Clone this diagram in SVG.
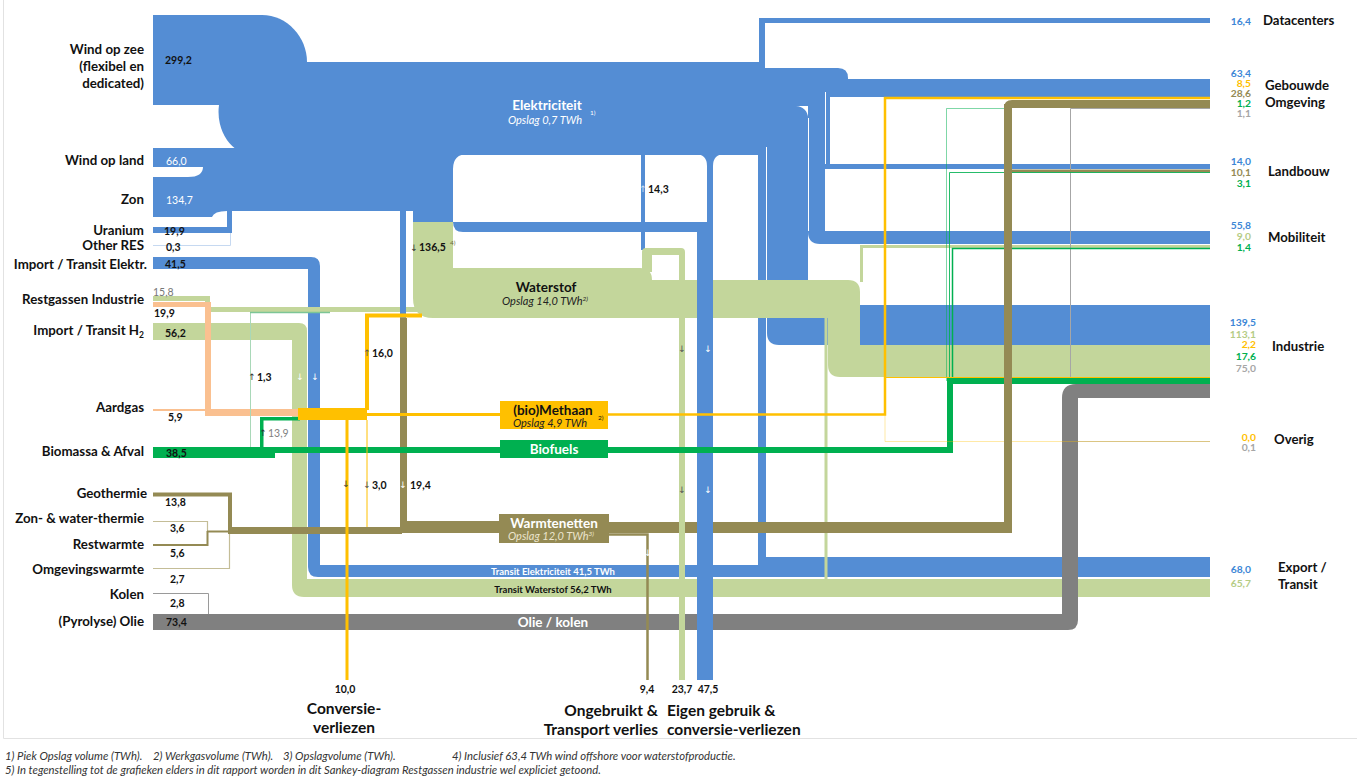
<svg xmlns="http://www.w3.org/2000/svg" width="1357" height="776" viewBox="0 0 1357 776">
<style>
text{font-family:Lato,"Open Sans","Liberation Sans",sans-serif}
.lbl{font-size:13.3px;font-weight:bold;fill:#111;text-anchor:end}
.rl{font-size:13.2px;font-weight:bold;fill:#111}
.v{font-size:10.5px;font-weight:bold;fill:#111}
.vw{font-size:10.5px;fill:#fff}
.vr{font-size:10.3px;font-weight:bold;text-anchor:end}
.nl{font-size:13.5px;font-weight:bold;text-anchor:middle}
.ns{font-size:11px;font-style:italic;text-anchor:middle}
.sup{font-size:6.5px}
.ar{font-family:"DejaVu Sans",sans-serif;font-size:9px;text-anchor:middle}
.bt{font-size:15.5px;font-weight:bold;fill:#111}
.fn{font-size:11.3px;font-style:italic;fill:#333}
.tr{font-size:9.5px;font-weight:bold;text-anchor:middle}
.bl{fill:#548DD4}.h2{fill:#C3D69B}.yl{fill:#FFC000}.ol{fill:#948A54}.gn{fill:#00B050}.gy{fill:#808080}.pc{fill:#FAC090}.wh{fill:#fff}
.s{fill:none}
</style>
<rect width="1357" height="776" fill="#fff"/>
<path d="M3.5,0 V738.5 H1357" fill="none" stroke="#e2e2e2" stroke-width="1"/>

<g id="connectors">
  <!-- Elektriciteit mass and outgoing columns -->
  <path class="bl" d="M153,15 H262 C287,15 307,37 307,62 V105 H153 Z"/>
  <path class="bl" d="M219,62 H759 V18 H1210 V23 H765 V68 H838 Q848,68 848,78 V90 H808 V155 H254 A35,43 0 0 1 219,105 Z"/>
  <rect class="bl" x="153" y="148" width="57" height="19"/>
  <path class="bl" d="M153,177 H188 Q203,177 203,167 V217 H153 Z"/>
  <path class="bl" d="M203,148 H453 V222 H413 V211 H227 Q214,211 212,217 H203 Z"/>
  <path class="bl" d="M153,227 H227 V208 H232 V233 H153 Z"/>
  <path class="s" d="M153,245.5 H230.5 V233" stroke="#C6D9F1" stroke-width="1"/>
  <rect class="bl" x="400" y="205" width="6" height="113"/>
  <path class="bl" d="M453,154 H468 Q453,154 453,169 Z"/>
  <path class="bl" d="M453,222 H713 V232 H463 Q453,232 453,222 Z"/>
  <rect class="bl" x="707" y="150" width="6" height="82"/>
  <path class="bl" d="M707,154 V166 Q707,154 695,154 Z"/>
  <path class="bl" d="M713,154 V166 Q713,154 725,154 Z"/>
  <rect class="bl" x="641" y="150" width="4" height="100"/>
  <path class="bl" d="M830,79 H1210 V97 H830 Z"/>
  <path class="bl" d="M825,88 H830 V164 H1210 V169 H825 Z"/>
  <path class="bl" d="M808,88 H825 V231 H1210 V244 H820 Q808,244 808,232 Z"/>
  <path class="bl" d="M767,100 H808 V305 H1210 V345 H779 Q767,345 767,333 Z"/>
  <path class="bl" d="M758,150 H766 V557 H1210 V577 H758 Z"/>
  <path class="bl" d="M153,257 H311 Q320,257 320,266 V565 H766 V577 H318 Q308,577 308,567 V269 H153 Z"/>
  <path class="wh" d="M796,106 H808 V118 A12,12 0 0 0 796,106 Z"/>
  <path class="s" d="M808.5,118 V231 M825.5,92 V164 M766.5,147 V557" stroke="#fff" stroke-width="1"/>

  <!-- Waterstof flows -->
  <path class="h2" d="M413,222 H453 V268 H640 Q652,268 652,280 H848 Q860,280 860,292 V345 H1210 V377 H840 Q828,377 828,365 V318 H433 Q413,318 413,298 Z"/>
  <path class="h2" d="M642,252 Q642,248 646,248 H681 Q685,248 685,252 V680 H679 V255 H652 V272 H642 Z"/>
  <path class="s" d="M861.5,282 V246.5 H1210" stroke="#C3D69B" stroke-width="3"/>
  <path class="s" d="M826,318 V580" stroke="#C3D69B" stroke-width="3"/>
  <path class="h2" d="M153,296 H210 V307 H420 V312 H205 V301 H153 Z"/>
  <path class="h2" d="M153,323 H299 Q307,323 307,331 V579 H1210 V597 H304 Q292,597 292,585 V340 H153 Z"/>
  <rect class="bl" x="400" y="300" width="6" height="18"/>

  <!-- Olie / kolen -->
  <path class="gy" d="M153,614 H1062 V398 Q1062,384 1076,384 H1210 V398 H1078 V620 Q1078,630 1068,630 H153 Z"/>
  <path class="s" d="M153,593.5 H208.5 V614" stroke="#9a9a9a" stroke-width="1"/>
  <path class="s" d="M1070.5,384 V108.5 H1210" stroke="#A6A6A6" stroke-width="1"/>
  <path class="s" d="M1078,441.5 H1210" stroke="#C8C8C8" stroke-width="1"/>

  <!-- Warmte -->
  <path class="s" d="M153,494.5 H230 V531" stroke="#948A54" stroke-width="4"/>
  <path class="s" d="M153,521.5 H207.5 V532" stroke="#C4BD97" stroke-width="1.2"/>
  <path class="s" d="M153,545 H207.5 V531" stroke="#948A54" stroke-width="2"/>
  <path class="s" d="M207,531.5 H230" stroke="#948A54" stroke-width="2"/>
  <path class="s" d="M153,568.5 H229.5 V533" stroke="#C4BD97" stroke-width="1.2"/>
  <rect class="ol" x="228" y="527" width="174" height="7"/>
  <rect class="ol" x="400" y="318" width="7" height="215"/>
  <rect class="ol" x="400" y="521" width="100" height="12"/>
  <path class="ol" d="M608,522 H1004 V108 Q1004,100 1012,100 H1210 V108 H1012 V533 H608 Z"/>
  <path class="s" d="M1012,171 H1210" stroke="#948A54" stroke-width="3"/>
  <path class="s" d="M608,534.5 H647.5 V680" stroke="#948A54" stroke-width="2.5"/>

  <!-- Eigen gebruik column -->
  <rect class="bl" x="697" y="222" width="16" height="458"/>
  <rect class="h2" x="679" y="300" width="6" height="380"/>

  <!-- Aardgas / restgassen -->
  <path class="pc" d="M153,302 H211 V409 H300 V416 H205 V307 H153 Z"/>
  <rect class="pc" x="153" y="409" width="55" height="2"/>

  <!-- Biomassa / biofuels -->
  <path class="s" d="M250.5,447 V312" stroke="#A9D8B8" stroke-width="1"/>
  <path class="s" d="M250,312.5 H330" stroke="#7CC596" stroke-width="1.5"/>
  <rect class="gn" x="153" y="447" width="122" height="11"/>
  <rect class="gn" x="270" y="447" width="230" height="6"/>
  <path class="s" d="M261.75,450 V418.75 H300" stroke="#00B050" stroke-width="3.5"/>
  <path class="s" d="M608,450 H950 V381 H1210" stroke="#00B050" stroke-width="6"/>
  <path class="s" d="M946.5,381 V108.5 H1004" stroke="#00B050" stroke-opacity=".5" stroke-width="1"/>
  <path class="s" d="M949.5,381 V172.5 H1210" stroke="#00B050" stroke-opacity=".85" stroke-width="1"/>
  <path class="s" d="M952.5,381 V248.5 H1210" stroke="#00B050" stroke-width="1.5"/>

  <!-- Methaan -->
  <rect class="yl" x="298" y="408" width="69" height="12"/>
  <path class="s" d="M367,410 V315.5 H422" stroke="#FFC000" stroke-width="4"/>
  <path class="s" d="M363,414.5 H500" stroke="#FFC000" stroke-width="3"/>
  <path class="s" d="M608,414.5 H885 V98 H1210" stroke="#FFC000" stroke-width="2.5"/>
  <path class="s" d="M885,415 V441.5 H1210" stroke="#FFC000" stroke-opacity=".35" stroke-width="1"/>
  <path class="s" d="M885,377.5 H1210" stroke="#FFC000" stroke-width="1"/>
  <path class="s" d="M347,420 V680" stroke="#FFC000" stroke-width="3"/>
  <path class="s" d="M367,420 V527" stroke="#FFC000" stroke-width="1"/>

  <rect class="ol" x="1004" y="104" width="8" height="429"/>

  <!-- flow arrows -->
  <text class="ar" x="300" y="380" fill="#fff">↓</text>
  <text class="ar" x="315" y="380" fill="#fff">↓</text>
  <text class="ar" x="682" y="352" fill="#555">↓</text>
  <text class="ar" x="708" y="352" fill="#fff">↓</text>
  <text class="ar" x="682" y="493" fill="#555">↓</text>
  <text class="ar" x="708" y="493" fill="#fff">↓</text>
  <text class="ar" x="648" y="556" fill="#fff">↓</text>
  <text class="ar" x="346" y="487" fill="#444">↓</text>
</g>

<g id="node-elektriciteit">
  <text class="nl" x="547" y="110" fill="#fff">Elektriciteit</text>
  <text class="ns" x="545" y="124" fill="#fff">Opslag 0,7 TWh</text>
  <text class="sup" x="590" y="115" fill="#fff">1)</text>
  <text class="ar" x="643" y="192" fill="#cfe0f5">↑</text>
  <text class="v" x="648" y="193">14,3</text>
  <text class="ar" x="414" y="251" fill="#333">↓</text>
  <text class="v" x="419" y="251">136,5</text>
  <text class="sup" x="450" y="245" fill="#6b6b3a">4)</text>
</g>

<g id="node-waterstof">
  <text class="nl" x="546" y="292" fill="#111">Waterstof</text>
  <text class="ns" x="545" y="305" fill="#222">Opslag 14,0 TWh<tspan class="sup" dy="-4">2)</tspan></text>
</g>

<g id="node-methaan">
  <rect class="yl" x="500" y="401" width="108" height="28"/>
  <text class="nl" x="553" y="415" fill="#111">(bio)Methaan</text>
  <text class="ns" x="550" y="427" fill="#222">Opslag 4,9 TWh</text>
  <text class="sup" x="598" y="420" fill="#111">2)</text>
  <text class="ar" x="367" y="356" fill="#555">↑</text>
  <text class="v" x="372" y="357">16,0</text>
  <text class="ar" x="367" y="488" fill="#555">↓</text>
  <text class="v" x="372" y="489">3,0</text>
</g>

<g id="node-biofuels">
  <rect class="gn" x="500" y="440" width="108" height="18"/>
  <text class="nl" x="554" y="454" fill="#fff">Biofuels</text>
  <text class="ar" x="252" y="380" fill="#333">↑</text>
  <text class="v" x="257" y="381">1,3</text>
  <text class="ar" x="263" y="436" fill="#333">↑</text>
  <text x="268" y="437" style="font-size:10.5px" fill="#7f7f7f">13,9</text>
</g>

<g id="node-warmtenetten">
  <rect class="ol" x="499" y="514" width="110" height="29"/>
  <text class="nl" x="554" y="528" fill="#fff">Warmtenetten</text>
  <text class="ns" x="551" y="540" fill="#ebe4cc">Opslag 12,0 TWh<tspan class="sup" dy="-4">3)</tspan></text>
  <text class="ar" x="403" y="488" fill="#fff">↓</text>
  <text class="v" x="410" y="489">19,4</text>
</g>

<g id="node-transit">
  <text class="tr" x="553" y="575" fill="#fff">Transit Elektriciteit 41,5 TWh</text>
  <text class="tr" x="553" y="593" fill="#111">Transit Waterstof 56,2 TWh</text>
  <text class="nl" x="553" y="627" fill="#fff">Olie / kolen</text>
</g>

<g id="sources">
  <text class="lbl" x="144" y="54">Wind op zee</text>
  <text class="lbl" x="144" y="71">(flexibel en</text>
  <text class="lbl" x="144" y="88">dedicated)</text>
  <text class="lbl" x="144" y="165">Wind op land</text>
  <text class="lbl" x="144" y="204">Zon</text>
  <text class="lbl" x="144" y="235">Uranium</text>
  <text class="lbl" x="144" y="250">Other RES</text>
  <text class="lbl" x="147" y="269">Import / Transit Elektr.</text>
  <text class="lbl" x="144" y="304">Restgassen Industrie</text>
  <text class="lbl" x="144" y="335">Import / Transit H<tspan dy="3" style="font-size:8.5px">2</tspan></text>
  <text class="lbl" x="144" y="412">Aardgas</text>
  <text class="lbl" x="144" y="456">Biomassa &amp; Afval</text>
  <text class="lbl" x="147" y="498">Geothermie</text>
  <text class="lbl" x="144" y="523">Zon- &amp; water-thermie</text>
  <text class="lbl" x="144" y="549">Restwarmte</text>
  <text class="lbl" x="144" y="574">Omgevingswarmte</text>
  <text class="lbl" x="144" y="599">Kolen</text>
  <text class="lbl" x="144" y="626">(Pyrolyse) Olie</text>

  <text class="v" x="165" y="64" fill="#fff">299,2</text>
  <text class="vw" x="166" y="165">66,0</text>
  <text class="vw" x="166" y="204">134,7</text>
  <text class="v" x="164" y="235">19,9</text>
  <text class="v" x="166" y="251">0,3</text>
  <text class="v" x="165" y="268">41,5</text>
  <text x="153" y="296" style="font-size:10.5px" fill="#777">15,8</text>
  <text class="v" x="154" y="317">19,9</text>
  <text class="v" x="165" y="337">56,2</text>
  <text class="v" x="168" y="421">5,9</text>
  <text class="v" x="166" y="457" fill="#fff">38,5</text>
  <text class="v" x="165" y="506">13,8</text>
  <text class="v" x="170" y="532">3,6</text>
  <text class="v" x="170" y="557">5,6</text>
  <text class="v" x="170" y="583">2,7</text>
  <text class="v" x="170" y="607">2,8</text>
  <text class="v" x="166" y="626" fill="#fff">73,4</text>
</g>

<g id="sink-datacenters">
  <text class="vr" x="1251" y="25" fill="#3C86D6">16,4</text>
  <text class="rl" x="1263" y="25">Datacenters</text>
</g>
<g id="sink-gebouwde-omgeving">
  <text class="vr" x="1251" y="77" fill="#3C86D6">63,4</text>
  <text class="vr" x="1251" y="87" fill="#FFC000">8,5</text>
  <text class="vr" x="1251" y="97" fill="#948A54">28,6</text>
  <text class="vr" x="1251" y="107" fill="#00B050">1,2</text>
  <text class="vr" x="1251" y="117" fill="#A6A6A6">1,1</text>
  <text class="rl" x="1265" y="90">Gebouwde</text>
  <text class="rl" x="1265" y="107">Omgeving</text>
</g>
<g id="sink-landbouw">
  <text class="vr" x="1251" y="165" fill="#3C86D6">14,0</text>
  <text class="vr" x="1251" y="176" fill="#948A54">10,1</text>
  <text class="vr" x="1251" y="187" fill="#00B050">3,1</text>
  <text class="rl" x="1268" y="176">Landbouw</text>
</g>
<g id="sink-mobiliteit">
  <text class="vr" x="1251" y="229" fill="#3C86D6">55,8</text>
  <text class="vr" x="1251" y="240" fill="#B5CC85">9,0</text>
  <text class="vr" x="1251" y="251" fill="#00B050">1,4</text>
  <text class="rl" x="1268" y="242">Mobiliteit</text>
</g>
<g id="sink-industrie">
  <text class="vr" x="1256" y="326" fill="#3C86D6">139,5</text>
  <text class="vr" x="1256" y="338" fill="#B5CC85">113,1</text>
  <text class="vr" x="1256" y="348" fill="#FFC000">2,2</text>
  <text class="vr" x="1256" y="360" fill="#00B050">17,6</text>
  <text class="vr" x="1256" y="372" fill="#A6A6A6">75,0</text>
  <text class="rl" x="1272" y="351">Industrie</text>
</g>
<g id="sink-overig">
  <text class="vr" x="1256" y="441" fill="#FFC000">0,0</text>
  <text class="vr" x="1256" y="451" fill="#A6A6A6">0,1</text>
  <text class="rl" x="1274" y="444">Overig</text>
</g>
<g id="sink-export">
  <text class="vr" x="1251" y="573" fill="#3C86D6">68,0</text>
  <text class="vr" x="1251" y="587" fill="#B5CC85">65,7</text>
  <text class="rl" x="1278" y="572">Export /</text>
  <text class="rl" x="1278" y="589">Transit</text>
</g>

<g id="sink-conversieverliezen">
  <text class="v" x="345" y="693" text-anchor="middle">10,0</text>
  <text class="bt" x="344" y="714" text-anchor="middle">Conversie-</text>
  <text class="bt" x="344" y="733" text-anchor="middle">verliezen</text>
</g>
<g id="sink-ongebruikt">
  <text class="v" x="647" y="693" text-anchor="middle">9,4</text>
  <text class="bt" x="658" y="716" text-anchor="end">Ongebruikt &amp;</text>
  <text class="bt" x="658" y="735" text-anchor="end">Transport verlies</text>
</g>
<g id="sink-eigengebruik">
  <text class="v" x="682" y="693" text-anchor="middle">23,7</text>
  <text class="v" x="708" y="693" text-anchor="middle">47,5</text>
  <text class="bt" x="667" y="716">Eigen gebruik &amp;</text>
  <text class="bt" x="667" y="735">conversie-verliezen</text>
</g>

<g id="footnotes">
  <text class="fn" x="5" y="760">1) Piek Opslag volume (TWh).</text>
  <text class="fn" x="153" y="760">2) Werkgasvolume (TWh).</text>
  <text class="fn" x="283" y="760">3) Opslagvolume (TWh).</text>
  <text class="fn" x="452" y="760">4) Inclusief 63,4 TWh wind offshore voor waterstofproductie.</text>
  <text class="fn" x="5" y="774">5) In tegenstelling tot de grafieken elders in dit rapport worden in dit Sankey-diagram Restgassen industrie wel expliciet getoond.</text>
</g>
</svg>
